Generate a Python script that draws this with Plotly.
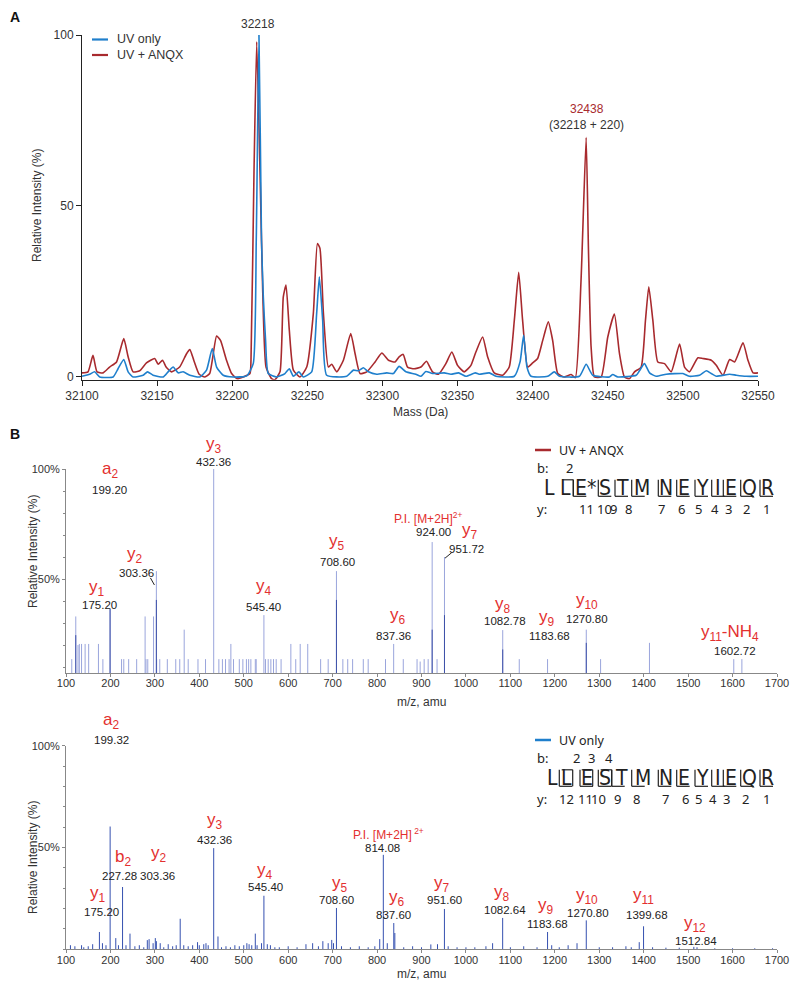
import plotly.graph_objects as go

# The page body has an 8 px margin, so the figure is drawn 8 px in from the corner.
W, H, OFF = 792, 974, 8

# ---------------- Panel A : intact protein mass spectra ----------------
mass_anqx = [32100, 32104, 32107.3, 32110, 32114, 32118.4, 32123, 32127.8, 32130.7, 32134,
             32138.4, 32142.9, 32148.4, 32150.7, 32153.6, 32156, 32159.6, 32165, 32169.6, 32171.8,
             32174.4, 32178, 32181.8, 32185, 32189.6, 32192.2, 32196.2, 32199.6, 32203.3, 32207.3,
             32211.8, 32212.5, 32214.5, 32216.3, 32218.5, 32220.3, 32222.5, 32226.2, 32228.4, 32231.8,
             32234, 32235.8, 32238, 32240.7, 32245.1, 32249.6, 32254, 32256.7, 32258.4, 32260.7,
             32264, 32266.2, 32269.6, 32274, 32278.9, 32281.8, 32285.1, 32289.6, 32295.1, 32299.6,
             32304, 32308.4, 32311.1, 32313.8, 32316.7, 32321.1, 32325.6, 32329.3, 32333.3, 32337.3,
             32342.2, 32346.2, 32350, 32354.4, 32358.9, 32362.2, 32366.7, 32370, 32374.4, 32380,
             32384.4, 32387.8, 32390.7, 32393.3, 32396.7, 32400, 32403.3, 32406.7, 32410.4, 32413.3,
             32416.7, 32421.1, 32425.6, 32428.4, 32432.2, 32435.6, 32437.1, 32438.9, 32441.1, 32445.6,
             32450, 32454.4, 32457.8, 32461.1, 32464.4, 32467.8, 32472.2, 32475.1, 32477.3, 32480,
             32483.3, 32487.8, 32492.2, 32497.8, 32501.1, 32504.4, 32510, 32513.3, 32518.9, 32522.2,
             32526.7, 32531.1, 32534.4, 32540, 32543.3, 32546.7, 32550]
int_anqx = [1.2, 1.5, 6.3, 1.5, 1.2, 2.9, 4.4, 11.2, 5.9, 1.5,
            1.8, 4.1, 5.4, 3.7, 4.9, 2.9, 1.5, 2.9, 6.8, 8.0,
            4.9, 0.8, 0, 1, 12, 10.7, 4.9, 1, -0.5, 0,
            1, 5, 60, 98, 60, 25, 2.9, -0.5, -0.8, 1.5,
            23.4, 26.9, 13.7, 2, 0, 2.9, 18.6, 39, 37.6, 18.6,
            2.9, 3.7, 1.5, 4.9, 12.7, 6.8, 1, 1.5, 4.4, 7,
            4.9, 4.4, 5.9, 6.6, 2.9, 2.4, 2.9, 4.6, 1.5, 0.8,
            3.9, 7.3, 3.4, 1.5, 3.4, 7.3, 11.7, 5.9, 1.2, 0.5,
            2.9, 16.6, 30.6, 16.6, 2.9, 4.1, 5.4, 10.7, 16.1, 10.7,
            1, 0, 0.7, -0.2, 28.3, 70, 38, 8.8, 0, 0,
            11.7, 18.4, 6.8, 0, -0.5, 1.5, 2.9, 16.6, 26.4, 16.6,
            4.4, 3.9, 1.5, 9.6, 2.9, 1.5, 5.6, 5.4, 4.9, 3.4,
            0.5, 5.1, 4.4, 10, 4.9, 1.2, 1.2]

mass_uv = [32100, 32105.1, 32108.4, 32111.8, 32120.7, 32124, 32127.8, 32130.7, 32134, 32140.7,
           32143.6, 32147.3, 32154, 32157.3, 32160.7, 32164, 32167.3, 32171.8, 32178.4, 32182.9,
           32186.7, 32189.6, 32194, 32200.7, 32209.6, 32214, 32216, 32217.8, 32219.5, 32220.7,
           32222.2, 32224, 32229.6, 32235.1, 32238, 32240.7, 32244.4, 32247.3, 32252.9, 32256.2,
           32258, 32260.2, 32262.9, 32276.2, 32280.7, 32284, 32287.3, 32290.7, 32296.2, 32302.9,
           32307.3, 32311.1, 32315.6, 32322.2, 32325.6, 32328.9, 32333.3, 32341.1, 32345.6, 32350.7,
           32355.6, 32361.8, 32364.4, 32371.1, 32375.6, 32387.8, 32391.6, 32394, 32396.2, 32398.9,
           32410, 32414.4, 32417.8, 32431.1, 32435.6, 32440, 32451.1, 32453.3, 32456.7, 32468.9,
           32471.1, 32474.4, 32477.8, 32482.2, 32488.9, 32500, 32504.4, 32511.1, 32515.6, 32518.9,
           32522.2, 32531.1, 32535.6, 32542.2, 32550]
int_uv = [0.2, 0.8, 1.5, 0, 0, 2.4, 5.1, 1.5, 0, 0.5,
          1.5, 0.5, 0, 1.5, 2.9, 1.2, 1.5, 0.5, 0, 2,
          8.3, 2.9, 0.5, 0, 0.3, 3.9, 40, 100, 40, 23.4,
          10.7, 1, 0, 1, 2.4, 0.2, 1.5, 0, 1.5, 18.6,
          29.3, 16.6, 0.5, 0.2, 2, 1.8, 2.7, 1.5, 0.8, 1.2,
          1, 3.1, 1.5, 0.8, 0.2, 1.6, 1, 1.2, 0.8, 1.2,
          0.2, 1.2, 0.8, 1.2, 0.2, 0.2, 4.4, 12.2, 2.9, 0.2,
          0.2, 1.5, 0.2, 0.2, 3.7, 0.5, 0, 0.7, 0, 0.5,
          1.8, 3.9, 1.2, 0.2, 0.8, 1, 0.2, 0.5, 1.8, 1,
          0.2, 0.8, 0.5, 0.2, 0.2]

mass_ticks_a = [32100, 32150, 32200, 32250, 32300, 32350, 32400, 32450, 32500, 32550]

# ---------------- Panel B : MS/MS spectra ----------------
mz_anqx = [113, 122, 127, 130, 135, 143, 151, 173, 183, 199.2,
           225, 230, 241, 259, 278, 280, 284, 297, 303.36, 304,
           311, 328, 347, 356, 366, 375, 397, 414, 432.36, 444,
           452, 459, 467, 471, 477, 490, 498, 506, 511, 516,
           526, 528, 545.4, 549, 555, 561, 567, 573, 584, 606,
           617, 627, 644, 673, 690, 708.6, 723, 734, 745, 769,
           780, 819, 837.36, 859, 890, 897, 906, 915, 924, 935,
           951.72, 1082.78, 1120, 1183.68, 1270.8, 1303, 1413, 1602.72, 1621]
rel_anqx = [13.6, 33, 20, 20.5, 20.5, 20.5, 20.5, 20.5, 13.6, 36.4,
            13.6, 13.6, 13.6, 13.6, 33, 13.6, 13.6, 33, 53.6, 13.6,
            13.6, 13.6, 13.6, 13.6, 27, 13.6, 13.6, 13.6, 100, 13.6,
            13.6, 13.6, 13.6, 20.5, 13.6, 13.6, 13.6, 13.6, 13.6, 13.6,
            13.6, 13.6, 33.6, 13.6, 13.6, 13.6, 13.6, 13.6, 13.6, 20.5,
            13.6, 20.5, 20.5, 13.6, 13.6, 53.6, 13.6, 13.6, 13.6, 13.6,
            13.6, 13.6, 20.5, 13.6, 13.6, 12.5, 13.6, 13.6, 66.8, 13.6,
            60, 26.8, 13.6, 13.6, 27, 13.6, 21, 13.6, 13.6]
mz_anqx_dark = [122, 199.2, 303.36, 708.6, 924, 951.72, 1082.78, 1270.8]
rel_anqx_dark = [24.5, 36.4, 40.5, 40.5, 27, 33.6, 18, 21]

mz_uv = [110, 120, 135, 140, 150, 160, 175.2, 182, 190, 199.32,
         212, 218, 227.28, 235, 244, 255, 265, 275, 283, 287,
         296, 301, 303.36, 312, 320, 330, 340, 348, 357, 365,
         375, 385, 396, 400, 410, 415, 420, 432.36, 442, 450,
         460, 470, 480, 490, 500, 507, 512, 518, 526, 530,
         540, 545.4, 553, 560, 570, 580, 600, 620, 640, 655,
         668, 678, 690, 698, 702, 708.6, 720, 740, 760, 780,
         795, 806, 814.08, 823, 837.6, 840, 860, 880, 900, 921,
         936, 951.6, 960, 980, 1000, 1020, 1045, 1060, 1082.64, 1100,
         1130, 1160, 1183.68, 1193, 1210, 1230, 1250, 1270.8, 1300, 1330,
         1360, 1372, 1390, 1399.68, 1420, 1450, 1480, 1512.84, 1520, 1560,
         1600, 1650, 1690]
rel_uv = [2, 1.5, 2, 1, 1.5, 2.5, 8.5, 3, 2, 60.3,
          5.5, 2, 30.6, 2, 7.7, 1.5, 2, 1, 4.5, 5,
          3, 5.5, 4, 3, 1, 2.5, 1.5, 2, 15, 2,
          1.5, 2, 3.5, 2, 2.5, 3, 2, 49.7, 6.3, 1,
          1.5, 1, 2, 1.5, 2, 3, 2.5, 2, 7.7, 2,
          3, 26.3, 2.5, 2, 1, 1, 1.5, 1, 2.5, 3,
          1.5, 4, 3, 4.6, 3, 20.3, 1.5, 1, 1.5, 1,
          1.5, 5, 46.4, 3, 12.9, 8, 1, 1.5, 1, 2.4,
          2.5, 19.8, 1.5, 1, 1, 1, 1.5, 3, 15.4, 1,
          1.5, 1, 8.5, 2, 1, 2, 3, 14.2, 1, 1,
          1.5, 1, 3.5, 11.3, 1, 0.8, 0.8, 1.2, 1, 0.5,
          0.5, 0.5, 0.5]
mz_ticks_b = list(range(100, 1701, 100))

# fragment ion labels -- upper spectrum (UV + ANQX)
ions_anqx = ["a<sub>2</sub>", "y<sub>1</sub>", "y<sub>2</sub>", "y<sub>3</sub>", "y<sub>4</sub>",
             "y<sub>5</sub>", "y<sub>6</sub>", "P.I. [M+2H]<sup>2+</sup>", "y<sub>7</sub>",
             "y<sub>8</sub>", "y<sub>9</sub>", "y<sub>10</sub>", "y<sub>11</sub>-NH<sub>4</sub>"]
ion_xy_anqx = [(199, 99.5), (169, 46), (255, 61), (432, 111), (545.5, 46.3),
               (710, 66.9), (847, 33.3), (914.5, 77.9), (1009, 71.8),
               (1084, 38.3), (1181.6, 32.4), (1271.6, 40), (1594, 25.5)]
vals_anqx = ["199.20", "175.20", "303.36", "432.36", "545.40", "708.60", "837.36",
             "924.00", "951.72", "1082.78", "1183.68", "1270.80", "1602.72"]
val_xy_anqx = [(199, 90.5), (176.5, 38.2), (259, 52.6), (432, 103.3), (545.5, 37.4),
               (710, 57.9), (838, 24.1), (926, 71.5), (1001.6, 63.5),
               (1088, 31.0), (1189, 24.2), (1271.6, 31.7), (1605, 17.4)]

# fragment ion labels -- lower spectrum (UV only)
ions_uv = ["a<sub>2</sub>", "y<sub>1</sub>", "b<sub>2</sub>", "y<sub>2</sub>", "y<sub>3</sub>",
           "y<sub>4</sub>", "y<sub>5</sub>", "P.I. [M+2H]<sup> 2+</sup>", "y<sub>6</sub>",
           "y<sub>7</sub>", "y<sub>8</sub>", "y<sub>9</sub>", "y<sub>10</sub>", "y<sub>11</sub>",
           "y<sub>12</sub>"]
ion_xy_uv = [(200.6, 112), (172.7, 27), (227.6, 45), (310, 46.6), (435, 63),
             (548, 38.7), (716.5, 31.9), (826.8, 56.7), (844.8, 25.4),
             (945, 31.9), (1081.7, 27.8), (1180, 21.3), (1271.6, 26.2), (1399, 26.2),
             (1515, 12.3)]
vals_uv = ["199.32", "175.20", "227.28", "303.36", "432.36", "545.40", "708.60", "814.08",
           "837.60", "951.60", "1082.64", "1183.68", "1270.80", "1399.68", "1512.84"]
val_xy_uv = [(203.5, 102.8), (181, 18.1), (221.5, 35.8), (307, 35.8), (435, 53.8),
             (548, 30.6), (709.8, 24.4), (813, 49.7), (838, 17),
             (952.8, 24), (1087.8, 19.5), (1184.5, 12.5), (1274.5, 17.8), (1407, 17),
             (1517.5, 3.9)]

# peptide sequence maps
seq_anqx = ["L", "L", "E*", "S", "T", "M", "N", "E", "Y", "I", "E", "Q", "R"]
seq_uv = ["L", "L", "E", "S", "T", "M", "N", "E", "Y", "I", "E", "Q", "R"]
b_num_anqx = ["2"]
y_num_anqx = ["11", "10", "9", "8", "7", "6", "5", "4", "3", "2", "1"]
b_num_uv = ["2", "3", "4"]
y_num_uv = ["12", "11", "10", "9", "8", "7", "6", "5", "4", "3", "2", "1"]

RED = "#a82a2e"
BLUE = "#1f7fcc"
LBL = "#e3302f"
INK = "#222"
FONT = "Liberation Sans, Arial, sans-serif"
SEQF = "Noto Sans, DejaVu Sans, sans-serif"
LETF = "Liberation Sans Narrow, DejaVu Sans Condensed, Noto Sans, sans-serif"

A_RANGE = [-0.8, 100]
B1_RANGE = [7.3, 100]
B2_RANGE = [0, 100]


def sticks(xs, ys, base):
    X, Y = [], []
    for x, y in zip(xs, ys):
        X += [x, x, None]
        Y += [base, y, None]
    return X, Y


def PX(x):
    return (x - OFF) / W


def PY(y):
    return 1 - (y - OFF) / H


def dom(v, rng):
    return (v - rng[0]) / (rng[1] - rng[0])


fig = go.Figure()

fig.add_trace(go.Scatter(x=mass_anqx, y=int_anqx, mode="lines",
                         line=dict(color=RED, width=1.6, shape="spline", smoothing=0.5),
                         xaxis="x", yaxis="y", showlegend=False))
fig.add_trace(go.Scatter(x=mass_uv, y=int_uv, mode="lines",
                         line=dict(color=BLUE, width=1.6, shape="spline", smoothing=0.5),
                         xaxis="x", yaxis="y", showlegend=False))

sx, sy = sticks(mz_anqx, rel_anqx, 0)
fig.add_trace(go.Scatter(x=sx, y=sy, mode="lines", line=dict(color="#9aa5dc", width=1),
                         xaxis="x2", yaxis="y2", showlegend=False))
sx, sy = sticks(mz_anqx_dark, rel_anqx_dark, 0)
fig.add_trace(go.Scatter(x=sx, y=sy, mode="lines", line=dict(color="#3d50a8", width=1),
                         xaxis="x2", yaxis="y2", showlegend=False))
sx, sy = sticks(mz_uv, rel_uv, 0)
fig.add_trace(go.Scatter(x=sx, y=sy, mode="lines", line=dict(color="#3550b0", width=1),
                         xaxis="x3", yaxis="y3", showlegend=False))

ann = []
shapes = []


def txt(x, y, t, size, color=INK, family=FONT, xanchor="center", angle=0):
    ann.append(dict(x=PX(x), y=PY(y), xref="paper", yref="paper", text=t, textangle=angle,
                    xanchor=xanchor, yanchor="middle", showarrow=False,
                    font=dict(size=size, color=color, family=family)))


def seg(x0, y0, x1, y1, color=INK, width=1.2):
    shapes.append(dict(type="line", xref="paper", yref="paper", x0=PX(x0), y0=PY(y0),
                       x1=PX(x1), y1=PY(y1), line=dict(color=color, width=width)))


def data_txt(axx, axy, rng, x, v, t, size, color):
    ann.append(dict(x=x, y=dom(v, rng), xref=axx, yref=axy + " domain", text=t, showarrow=False,
                    xanchor="center", yanchor="middle",
                    font=dict(size=size, color=color, family=FONT)))


# panel letters
txt(15, 17, "<b>A</b>", 14, color="#111")
txt(15, 434, "<b>B</b>", 14, color="#111")

# axis titles
txt(37, 206, "Relative Intensity (%)", 12, color="#333", angle=-90)
txt(420, 412, "Mass (Da)", 12, color="#333")
txt(33, 552, "Relative Intensity (%)", 12, color="#333", angle=-90)
txt(421, 702, "m/z, amu", 12, color="#333")
txt(33, 858, "Relative Intensity (%)", 12, color="#333", angle=-90)
txt(421, 974, "m/z, amu", 12, color="#333")

# panel A legend
for (y, col, t) in [(39.5, BLUE, "UV only"), (55, RED, "UV + ANQX")]:
    seg(92, y, 108, y, color=col, width=2.2)
    txt(115, y, t, 12.5, color="#333", xanchor="left")

# panel A peak labels
data_txt("x", "y", A_RANGE, 32217.4, 103.2, "32218", 12, "#333")
data_txt("x", "y", A_RANGE, 32436, 78.3, "32438", 12, RED)
data_txt("x", "y", A_RANGE, 32436, 73.8, "(32218 + 220)", 12, "#333")

# panel B ion labels
for (axx, axy, rng, ions, ixy, vals, vxy) in [
        ("x2", "y2", B1_RANGE, ions_anqx, ion_xy_anqx, vals_anqx, val_xy_anqx),
        ("x3", "y3", B2_RANGE, ions_uv, ion_xy_uv, vals_uv, val_xy_uv)]:
    for t, (x, y) in zip(ions, ixy):
        data_txt(axx, axy, rng, x, y, t, 12 if t.startswith("P.I.") else 17, LBL)
    for t, (x, y) in zip(vals, vxy):
        data_txt(axx, axy, rng, x, y, t, 11.5, INK)

# leader ticks next to two labels in upper spectrum
shapes.append(dict(type="line", xref="x2", yref="y2", x0=290, y0=50.5, x1=299, y1=47.3,
                   line=dict(color=INK, width=1)))
shapes.append(dict(type="line", xref="x2", yref="y2", x0=953, y0=59.5, x1=968, y1=62,
                   line=dict(color=INK, width=1)))

# sequence coverage maps
rows = [
    dict(y0=450, col=RED, name="UV + ANQX", seq=seq_anqx,
         seq_x=[549.3, 565.7, 585, 605, 622.5, 641.5, 665.5, 684, 702, 718, 731, 749, 767],
         ybr=[573.3, 598.3, 615, 631.7, 658.3, 676.7, 695, 711.7, 723.3, 740.7, 760],
         bbr=[573.3],
         bnums=b_num_anqx, bpos=[569.3], ynums=y_num_anqx,
         ypos=[586.7, 604, 613.3, 628.3, 661.7, 681.7, 698.3, 715, 728.3, 746.7, 766.7]),
    dict(y0=740, col=BLUE, name="UV only", seq=seq_uv,
         seq_x=[552.7, 566.5, 586.7, 605, 621.7, 643.3, 665.5, 684, 702, 718, 731, 749, 767],
         ybr=[559.3, 580, 598.3, 611.7, 631.7, 658.3, 676.7, 695, 711.7, 723.3, 740.7, 760],
         bbr=[572.7, 592.7, 611.7],
         bnums=b_num_uv, bpos=[576.7, 591.7, 609], ynums=y_num_uv,
         ypos=[566.7, 585, 598.3, 617.3, 636, 665, 685, 698.3, 713.3, 726.7, 745, 766.7]),
]
for r in rows:
    y0 = r["y0"]
    seg(535, y0, 551, y0, color=r["col"], width=2.5)
    txt(557, y0, r["name"], 12.5, xanchor="left", family=SEQF)
    yb, yl, yy = y0 + 18.3, y0 + 38.3, y0 + 59
    txt(535, yb, "b:", 13, xanchor="left", family=SEQF)
    txt(535, yy, "y:", 13, xanchor="left", family=SEQF)
    for t, x in zip(r["bnums"], r["bpos"]):
        txt(x, yb, t, 13, family=SEQF)
    for t, x in zip(r["ynums"], r["ypos"]):
        txt(x, yy, t, 13, family=SEQF)
    for t, x in zip(r["seq"], r["seq_x"]):
        txt(x, yl, t, 21, family=LETF)
    top, bot = yl - 8.5, yl + 8
    for x in r["ybr"]:
        seg(x, top, x, bot)
        seg(x, bot, x + 13, bot)
    for x in r["bbr"]:
        seg(x, top, x, bot)
        seg(x - 11, top, x, top)

axA = dict(showline=True, linecolor="#222", linewidth=1, ticks="outside", ticklen=5, tickcolor="#222",
           tickfont=dict(size=12, color="#333", family=FONT), showgrid=False, zeroline=False,
           automargin=False)
axB = dict(showline=True, linecolor="#888", linewidth=1, ticks="outside", ticklen=3, tickcolor="#888",
           tickfont=dict(size=11, color="#333", family=FONT), showgrid=False, zeroline=False,
           automargin=False)

fig.update_layout(
    width=W, height=H, margin=dict(l=0, r=0, t=0, b=0, autoexpand=False),
    paper_bgcolor="white", plot_bgcolor="white", showlegend=False,
    xaxis=dict(axA, domain=[PX(82), PX(758)], range=[32100, 32550], tickvals=mass_ticks_a,
               tickformat="d", anchor="y"),
    yaxis=dict(axA, domain=[PY(379.7), PY(35)], range=A_RANGE, tickvals=[0, 50, 100],
               anchor="x"),
    xaxis2=dict(axB, domain=[PX(66), PX(777)], range=[100, 1700], tickvals=mz_ticks_b, anchor="y2",
                ticklabelstandoff=-3),
    yaxis2=dict(axB, domain=[PY(673), PY(469)], range=B1_RANGE, tickvals=[50, 100],
                ticktext=["50%", "100%"], anchor="x2",
                minor=dict(dtick=10, tick0=0, ticks="outside", ticklen=2, tickcolor="#888")),
    xaxis3=dict(axB, domain=[PX(66), PX(777)], range=[100, 1700], tickvals=mz_ticks_b, anchor="y3",
                ticklabelstandoff=-3),
    yaxis3=dict(axB, domain=[PY(949.3), PY(745.7)], range=B2_RANGE, tickvals=[50, 100],
                ticktext=["50%", "100%"], anchor="x3",
                minor=dict(dtick=10, tick0=0, ticks="outside", ticklen=2, tickcolor="#888")),
    annotations=ann, shapes=shapes,
)

fig.write_html("out.html")
